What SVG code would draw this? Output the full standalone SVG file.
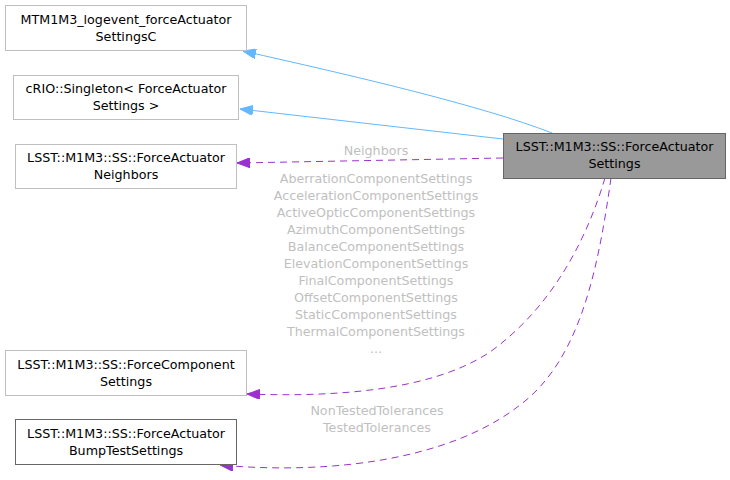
<svg xmlns="http://www.w3.org/2000/svg" width="730" height="480" viewBox="0 0 730 480">
<style>
text{font-family:"DejaVu Sans",sans-serif;font-size:12.7px;text-anchor:middle}
.n{fill:#fff;stroke:#bfbfbf;stroke-width:1}
.nd{fill:#fff;stroke:#666;stroke-width:1}
.m{fill:#999;stroke:#666;stroke-width:1}
.lbl{fill:#bfbfbf}
.inh{fill:none;stroke:#63b8ff;stroke-width:1}
.use{fill:none;stroke:#9a32cd;stroke-width:1;stroke-dasharray:7,5}
</style>
<defs>
<marker id="ab" markerUnits="userSpaceOnUse" markerWidth="13" markerHeight="10" viewBox="0 0 13 10" refX="13" refY="5" orient="auto"><path d="M0,0 L13,5 L0,10 z" fill="#63b8ff" stroke="#63b8ff"/></marker>
<marker id="ap" markerUnits="userSpaceOnUse" markerWidth="13" markerHeight="10" viewBox="0 0 13 10" refX="13" refY="5" orient="auto"><path d="M0,0 L13,5 L0,10 z" fill="#9a32cd" stroke="#9a32cd"/></marker>
</defs>
<rect width="730" height="480" fill="#fff"/>
<g id="connectors">
<path class="inh" d="M552,133 C480,105 350,75 243,51" marker-end="url(#ab)"/>
<path class="inh" d="M503,139 L240,109" marker-end="url(#ab)"/>
<path class="use" d="M503,158 L237,163" marker-end="url(#ap)"/>
<text class="lbl" x="376" y="155">Neighbors</text>
<path class="use" d="M605,178 C588,235 555,305 490,352 C430,392 330,397 247,394" marker-end="url(#ap)"/>
<g class="lbl">
<text class="lbl" x="376" y="182.5">AberrationComponentSettings</text>
<text class="lbl" x="376" y="199.5">AccelerationComponentSettings</text>
<text class="lbl" x="376" y="216.5">ActiveOpticComponentSettings</text>
<text class="lbl" x="376" y="233.5">AzimuthComponentSettings</text>
<text class="lbl" x="376" y="250.5">BalanceComponentSettings</text>
<text class="lbl" x="376" y="267.5">ElevationComponentSettings</text>
<text class="lbl" x="376" y="284.5">FinalComponentSettings</text>
<text class="lbl" x="376" y="301.5">OffsetComponentSettings</text>
<text class="lbl" x="376" y="318.5">StaticComponentSettings</text>
<text class="lbl" x="376" y="335.5">ThermalComponentSettings</text>
<text class="lbl" x="376" y="352.5">...</text>
</g>
<path class="use" d="M611,178 C598,270 580,360 520,405 C450,460 330,475 220,465" marker-end="url(#ap)"/>
<text class="lbl" x="377" y="414.5">NonTestedTolerances</text>
<text class="lbl" x="377" y="431.5">TestedTolerances</text>
</g>
<g id="main">
<rect class="m" x="503.5" y="133.5" width="222" height="45"/>
<text x="614.5" y="151">LSST::M1M3::SS::ForceActuator</text>
<text x="614.5" y="168">Settings</text>
</g>
<g id="mtm">
<rect class="n" x="5.5" y="5.5" width="241" height="45"/>
<text x="126" y="23.5">MTM1M3_logevent_forceActuator</text>
<text x="126" y="40.5">SettingsC</text>
</g>
<g id="singleton">
<rect class="n" x="13.5" y="75.5" width="225" height="44"/>
<text x="126" y="93">cRIO::Singleton&lt; ForceActuator</text>
<text x="126" y="110">Settings &gt;</text>
</g>
<g id="neighbors">
<rect class="n" x="15.5" y="144.5" width="221" height="44"/>
<text x="126" y="162">LSST::M1M3::SS::ForceActuator</text>
<text x="126" y="179">Neighbors</text>
</g>
<g id="forcecomponent">
<rect class="n" x="5.5" y="350.5" width="241" height="45"/>
<text x="126" y="368.5">LSST::M1M3::SS::ForceComponent</text>
<text x="126" y="385.5">Settings</text>
</g>
<g id="bumptest">
<rect class="nd" x="15.5" y="419.5" width="221" height="45"/>
<text x="126" y="437.5">LSST::M1M3::SS::ForceActuator</text>
<text x="126" y="454.5">BumpTestSettings</text>
</g>
</svg>
